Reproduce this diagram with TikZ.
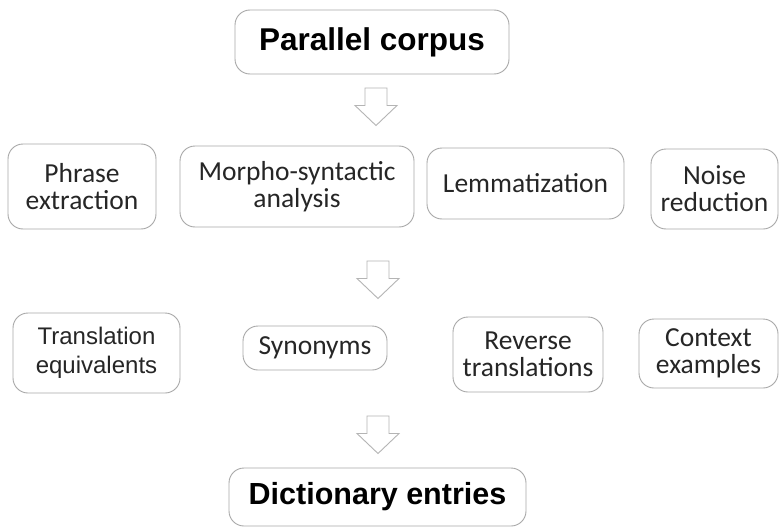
\documentclass[tikz,border=0pt]{standalone}
\usepackage{fontspec}
\setmainfont{Carlito}
\newfontfamily\arialfont{Liberation Sans}
\begin{document}
\begin{tikzpicture}[x=1pt,y=-1pt,
  box/.style={draw=boxgray, line width=0.9pt, rounded corners=15pt, align=center,
    inner sep=0pt, text=txtgray, font=\fontsize{27.5}{27}\selectfont},
  bigbox/.style={box, text=black, font=\arialfont\bfseries\fontsize{30.5}{30.5}\selectfont},
  arialbox/.style={box, font=\arialfont\fontsize{24}{29}\selectfont},
  downarrow/.pic={\draw[draw=arrowgray, line width=0.9pt, fill=white, line join=miter]
     (-11,0) -- (-11,17.5) -- (-21,17.5) -- (0,37.5) -- (21,17.5) -- (11,17.5) -- (11,0) -- cycle;}
]
\definecolor{boxgray}{HTML}{A8A8A8}
\definecolor{arrowgray}{HTML}{B4B4B4}
\definecolor{txtgray}{HTML}{262626}
\useasboundingbox[fill=white] (0,0) rectangle (779,527);

\node[bigbox, font=\arialfont\bfseries\fontsize{31.5}{31.5}\selectfont, minimum width=274pt, minimum height=64pt] (corpus) at (372,42) {Parallel corpus};

\pic at (376,88) {downarrow};

\node[box, minimum width=148pt, minimum height=85pt] (phrase) at (82,186.5) {Phrase\\extraction};
\node[box, minimum width=234pt, minimum height=81pt] (morpho) at (297,186.5) {Morpho-syntactic\\analysis};
\node[box, minimum width=197pt, minimum height=71pt] (lemma) at (525.5,183.5) {Lemmatization};
\node[box, minimum width=127pt, minimum height=80pt] (noise) at (714.5,189) {Noise\\reduction};

\pic at (378,261) {downarrow};

\node[arialbox, minimum width=167pt, minimum height=80pt] (transl) at (96.5,353) {Translation\\equivalents};
\node[box, minimum width=144pt, minimum height=44pt] (syn) at (315,348) {Synonyms};
\node[box, minimum width=150pt, minimum height=75pt] (reverse) at (528,354.5) {Reverse\\translations};
\node[box, minimum width=139pt, minimum height=69pt] (context) at (708.5,353.5) {Context\\examples};

\pic at (378,416) {downarrow};

\node[bigbox, minimum width=297pt, minimum height=58pt] (dict) at (377.5,497) {Dictionary entries};
\end{tikzpicture}
\end{document}
